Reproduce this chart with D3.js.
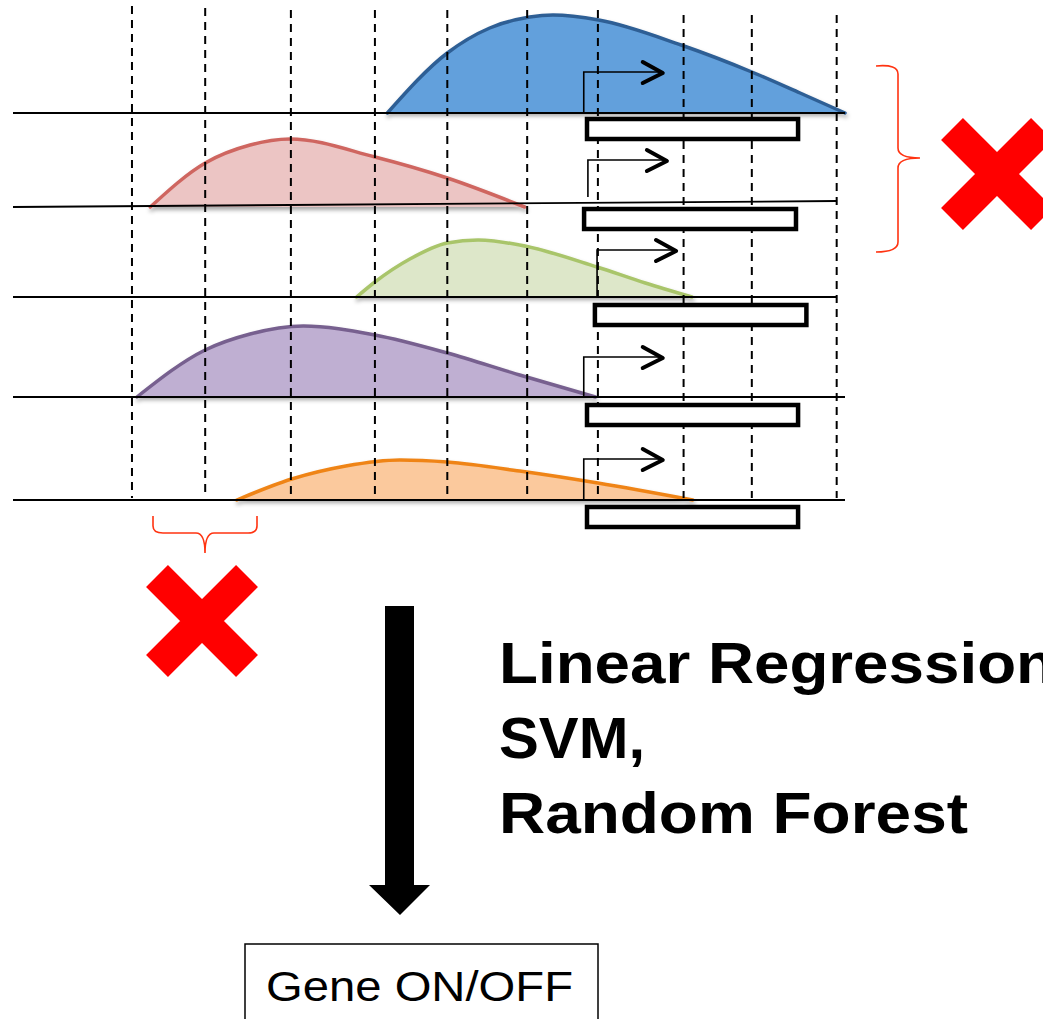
<!DOCTYPE html>
<html>
<head>
<meta charset="utf-8">
<script src="https://cdn.jsdelivr.net/npm/d3@7"></script>
<style>
  html, body { margin: 0; padding: 0; background: #fff; }
  svg { display: block; font-family: "Liberation Sans", Arial, sans-serif; }
</style>
</head>
<body>
<svg id="chart" width="1043" height="1019"></svg>
<script>
// --- data ---
const tracks = ['t1', 't2', 't3', 't4', 't5'];
const fills = ['#62a0dc', '#ecc5c4', '#dde7c9', '#bfafd2', '#fbc99d'];
const strokes = ['#2f5f95', '#cf6661', '#a9c56b', '#77608f', '#ef8417'];

// signal profiles: position (0-100) and height
const signalPos = [
    [45.0, 52.2, 57.3, 62.1, 64.9, 70.4, 80.3, 88.8, 94.6, 100],
    [16.5, 23.1, 28.5, 33.3, 43.5, 52.2, 61.5],
    [41.3, 43.5, 47.7, 52.2, 55.9, 60.9, 70.2, 76.0, 81.6],
    [14.9, 23.1, 28.5, 34.9, 43.5, 52.2, 60.9, 70.0],
    [26.9, 33.5, 40.0, 46.5, 52.2, 60.9, 70.3, 81.7]
];
const signalVal = [
    [0, 60, 85, 96, 98, 93, 68, 41, 20, 0],
    [0, 44, 62, 68, 50, 29, 0],
    [0, 15, 38, 54, 57, 52, 30, 14, 0],
    [0, 47, 63, 71, 62, 44, 22, 0],
    [0, 21, 34, 40, 38, 29, 17, 0]
];

// bins (dashed lines)
const binEdges = [14.3, 23.1, 33.4, 43.5, 52.2, 61.8, 70.3, 80.6, 88.8, 99.0];

// genes: TSS, start, end
const tss = [68.6, 69.1, 70.2, 68.6, 68.6];
const geneStart = [68.75, 68.4, 69.7, 68.75, 68.75];
const geneEnd = [94.6, 94.35, 95.6, 94.6, 94.6];

const methods = ['Linear Regression', 'SVM,', 'Random Forest'];
const outputLabel = 'Gene ON/OFF';

// --- scales ---
const svg = d3.select('#chart');
const x = d3.scaleLinear().domain([0, 100]).range([13, 845]);
const yBase = d3.scaleOrdinal().domain(tracks).range([113, 207, 297, 397, 500]);
const h = d3.scaleLinear().domain([0, 100]).range([0, 100]);

const defs = svg.append('defs');
const shadow = defs.append('filter').attr('id', 'shadow')
    .attr('x', '-10%').attr('y', '-10%').attr('width', '120%').attr('height', '130%');
shadow.append('feDropShadow').attr('dx', 1).attr('dy', 3)
    .attr('stdDeviation', 2).attr('flood-color', '#000').attr('flood-opacity', 0.35);

// Signal curves
tracks.forEach((t, i) => {
    const pts = signalPos[i].map((p, j) => [p, signalVal[i][j]]);
    const base = yBase(t);
    const area = d3.area().x(d => x(d[0])).y0(base).y1(d => base - h(d[1])).curve(d3.curveMonotoneX);
    const line = d3.line().x(d => x(d[0])).y(d => base - h(d[1])).curve(d3.curveMonotoneX);
    const g = svg.append('g').attr('filter', 'url(#shadow)');
    g.append('path').attr('d', area(pts)).attr('fill', fills[i]);
    g.append('path').attr('d', line(pts)).attr('fill', 'none')
        .attr('stroke', strokes[i]).attr('stroke-width', 3.5).attr('stroke-linecap', 'round');
});

// Baselines
tracks.forEach((t, i) => {
    svg.append('line')
        .attr('x1', x(0)).attr('x2', i === 1 || i === 2 ? x(99) : x(100))
        .attr('y1', yBase(t)).attr('y2', i === 1 ? yBase(t) - 6 : yBase(t))
        .attr('stroke', '#000').attr('stroke-width', 1.8);
});

// Dashed bin lines
svg.selectAll('.bin')
    .data(binEdges)
    .enter()
    .append('line')
    .attr('class', 'bin')
    .attr('x1', d => x(d)).attr('x2', d => x(d))
    .attr('y1', (d, i) => i < 3 ? 6 + i * 2 : (i < 7 ? 10 : 15))
    .attr('y2', 498)
    .attr('stroke', '#000').attr('stroke-width', 2)
    .attr('stroke-dasharray', '8,6');

// Genes + promoter arrows
const boxOffset = [4, 0, 6, 6, 5];
const arrowRise = [41, 47, 47, 40, 41];
tracks.forEach((t, i) => {
    const base = yBase(t);
    svg.append('rect')
        .attr('x', x(geneStart[i]) + 2).attr('y', base + boxOffset[i] + 2)
        .attr('width', x(geneEnd[i]) - x(geneStart[i]) - 4).attr('height', 20)
        .attr('fill', '#fff').attr('stroke', '#000').attr('stroke-width', 4.5);

    const tx = x(tss[i]);
    const bottom = i === 1 ? base - 10 : base;
    const top = base - arrowRise[i];
    svg.append('path')
        .attr('d', `M${tx},${bottom}V${top}H${tx + 79}`)
        .attr('fill', 'none').attr('stroke', '#000').attr('stroke-width', 1.6);
    svg.append('path')
        .attr('d', `M${tx + 59},${top - 10}L${tx + 79},${top + 1}L${tx + 59},${top + 11}`)
        .attr('fill', 'none').attr('stroke', '#000').attr('stroke-width', 4)
        .attr('stroke-linecap', 'round').attr('stroke-linejoin', 'round');
});

// Braces
const red = '#ff3311';
svg.append('path')
    .attr('d', 'M876,66 Q898,64 898,74 V148 Q898,158 920,158 Q898,158 898,168 V242 Q898,252 876,252')
    .attr('fill', 'none').attr('stroke', red).attr('stroke-width', 1.6);
svg.append('path')
    .attr('d', 'M153,516 V526 Q153,533 163,533 H196 Q205,533 205,553 Q205,533 214,533 H248 Q257,533 257,526 V516')
    .attr('fill', 'none').attr('stroke', red).attr('stroke-width', 1.6);

// Red crosses
function cross(cx, cy) {
    const a = 45;
    svg.append('path')
        .attr('d', `M${cx - a},${cy - a}L${cx + a},${cy + a}M${cx + a},${cy - a}L${cx - a},${cy + a}`)
        .attr('stroke', '#ff0000').attr('stroke-width', 31).attr('stroke-linecap', 'butt');
}
cross(997, 174);
cross(202, 621);

// Big arrow
svg.append('path')
    .attr('d', 'M385,606 H414 V885 H430 L400,915 L369,885 H385 Z')
    .attr('fill', '#000');

// Method labels
const methodWidth = [556, 146, 469];
methods.forEach((m, i) => {
    svg.append('text')
        .attr('x', 499).attr('y', 683 + i * 75)
        .attr('font-size', 57).attr('font-weight', 'bold').attr('fill', '#000')
        .attr('textLength', methodWidth[i]).attr('lengthAdjust', 'spacingAndGlyphs')
        .text(m);
});

// Output box
svg.append('rect')
    .attr('x', 245).attr('y', 944).attr('width', 353).attr('height', 100)
    .attr('fill', '#fff').attr('stroke', '#000').attr('stroke-width', 1.5);
svg.append('text')
    .attr('x', 266).attr('y', 1001)
    .attr('font-size', 43).attr('fill', '#000')
    .attr('textLength', 307).attr('lengthAdjust', 'spacingAndGlyphs')
    .text(outputLabel);
</script>
</body>
</html>
